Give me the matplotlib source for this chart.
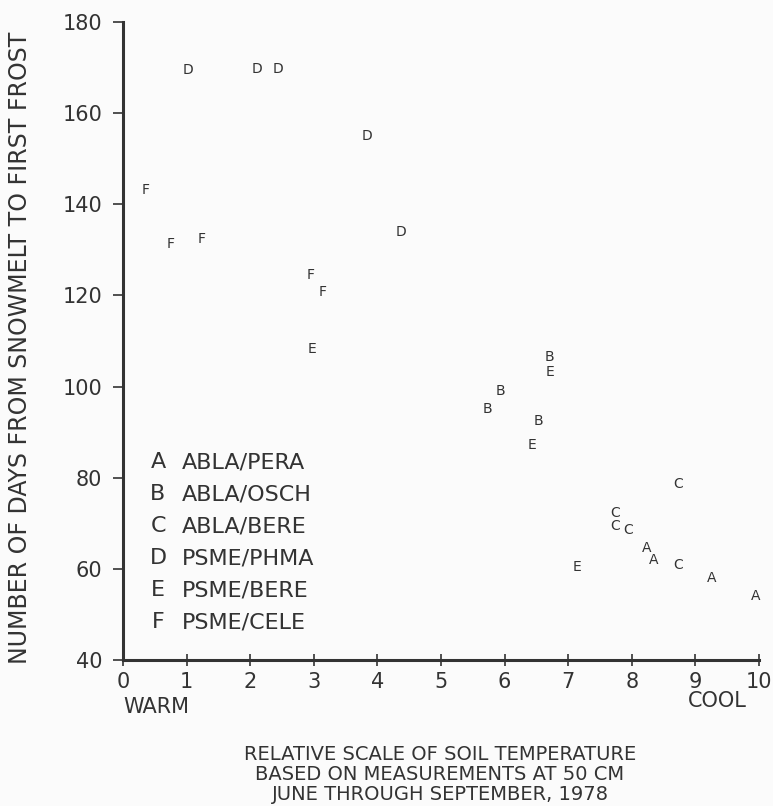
import matplotlib
matplotlib.use('Agg')
import matplotlib.pyplot as plt

# letter-coded groups, values
a_x = [8.24, 8.35, 9.26, 9.94]
a_y = [64.6, 62.0, 58.0, 54.0]
b_x = [6.71, 5.93, 5.73, 6.53]
b_y = [106.5, 99.0, 95.1, 92.4]
c_x = [8.73, 7.74, 7.74, 7.94, 8.73]
c_y = [78.6, 72.2, 69.4, 68.5, 60.8]
d_x = [1.02, 2.11, 2.44, 3.84, 4.37]
d_y = [169.5, 169.7, 169.7, 155.0, 133.9]
e_x = [6.71, 2.97, 6.43, 7.14]
e_y = [103.2, 108.2, 87.2, 60.4]
f_x = [0.36, 0.75, 1.24, 2.95, 3.14]
f_y = [143.1, 131.3, 132.4, 124.5, 120.8]

letters = ['A', 'B', 'C', 'D', 'E', 'F']
groups = ['ABLA/PERA', 'ABLA/OSCH', 'ABLA/BERE', 'PSME/PHMA', 'PSME/BERE', 'PSME/CELE']
xs = [a_x, b_x, c_x, d_x, e_x, f_x]
ys = [a_y, b_y, c_y, d_y, e_y, f_y]

x_ticks = list(range(0, 11))
y_ticks = list(range(40, 181, 20))

ink = '#333333'
plt.rcParams['font.family'] = ['DejaVu Sans']

W, H = 773, 806
fig = plt.figure(figsize=(W / 100, H / 100), dpi=100)
fig.patch.set_facecolor('#fbfbfb')
ax = fig.add_axes([123 / W, 1 - 660 / H, (759 - 123) / W, (660 - 22) / H])
ax.set_facecolor('#fbfbfb')

for lx, xv, yv in zip(letters, xs, ys):
    for x, y in zip(xv, yv):
        ax.text(x, y, lx, ha='center', va='center', fontsize=10, color=ink)

ax.set_xlim(0, 10)
ax.set_ylim(40, 180)
ax.set_xticks(x_ticks)
ax.set_yticks(y_ticks)
ax.set_xticklabels([str(t) for t in x_ticks])
ax.set_yticklabels([str(t) for t in y_ticks])
for s in ['top', 'right']:
    ax.spines[s].set_visible(False)
for s in ['left', 'bottom']:
    ax.spines[s].set_linewidth(2.2)
    ax.spines[s].set_color('#333333')
ax.tick_params(axis='y', direction='out', length=7, width=1.2, colors=ink,
               labelsize=15, pad=8)
ax.tick_params(axis='x', direction='inout', length=8, width=1.2, colors=ink,
               labelsize=15, pad=5)

ax.set_ylabel('NUMBER OF DAYS FROM SNOWMELT TO FIRST FROST', fontsize=17,
              color=ink)
ax.yaxis.set_label_coords(-0.143, 0.49)

# legend drawn as plain text rows
row0 = 462
for i, (lx, g) in enumerate(zip(letters, groups)):
    yy = 1 - (row0 + 32 * i) / H
    fig.text(158 / W, yy, lx, ha='center', va='center', fontsize=16, color=ink)
    fig.text(182 / W, yy, g, ha='left', va='center', fontsize=16, color=ink)

fig.text(123 / W, 1 - 707 / H, 'WARM', ha='left', va='center', fontsize=15, color=ink)
fig.text(747 / W, 1 - 701 / H, 'COOL', ha='right', va='center', fontsize=15, color=ink)

title = ['RELATIVE SCALE OF SOIL TEMPERATURE',
         'BASED ON MEASUREMENTS AT 50 CM',
         'JUNE THROUGH SEPTEMBER, 1978']
for i, t in enumerate(title):
    fig.text(440 / W, 1 - (754 + 20 * i) / H, t, ha='center', va='center',
             fontsize=14, color=ink)

fig.savefig('out.png', dpi=100, facecolor=fig.get_facecolor())
